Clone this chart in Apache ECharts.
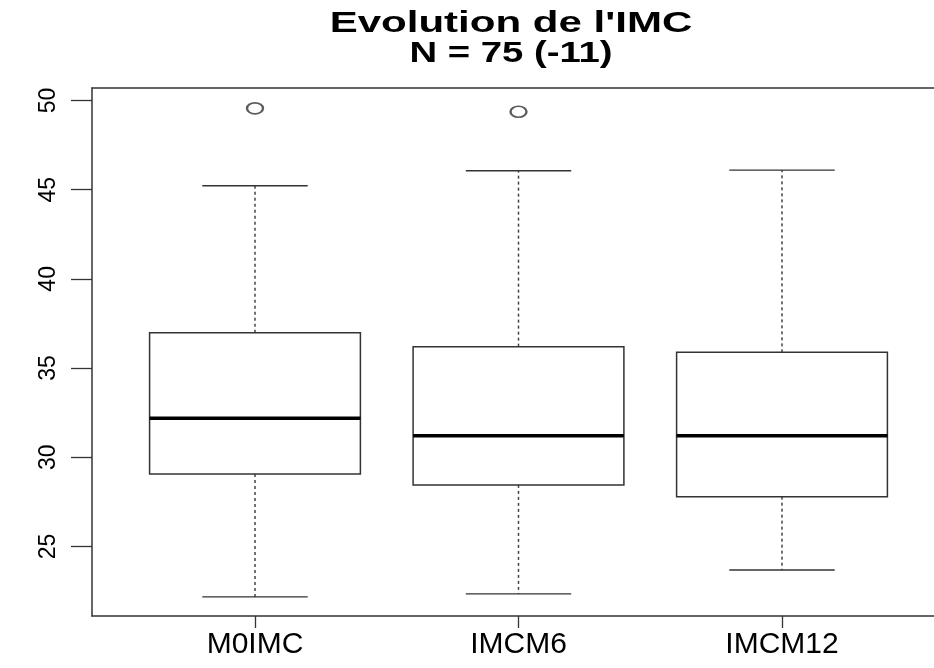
<!DOCTYPE html>
<html>
<head>
<meta charset="utf-8">
<script src="https://cdn.jsdelivr.net/npm/echarts@6/dist/echarts.min.js"></script>
<style>html,body{margin:0;padding:0;background:#fff;}#c{width:934px;height:668px;}</style>
</head>
<body>
<div id="c"></div>
<script>
var titleLine1 = "Evolution de l'IMC";
var titleLine2 = "N = 75 (-11)";
var categories = ["M0IMC", "IMCM6", "IMCM12"];
var lowWhisker = [22.17, 22.34, 23.68];
var q1 = [29.06, 28.45, 27.79];
var medians = [32.18, 31.21, 31.21];
var q3 = [36.98, 36.2, 35.88];
var highWhisker = [45.22, 46.06, 46.1];
var outlierCat = [0, 1];
var outlierVal = [49.56, 49.37];
var yTicks = [25, 30, 35, 40, 45, 50];
var yMin = 21.1, yMax = 50.7;

var boxData = categories.map(function (c, i) {
  return [i, lowWhisker[i], q1[i], medians[i], q3[i], highWhisker[i]];
});
var outData = outlierCat.map(function (c, i) { return [c, outlierVal[i]]; });

var chart = echarts.init(document.getElementById('c'), null, {renderer: 'canvas'});
var font = "'Liberation Sans', Arial, Helvetica, sans-serif";
var frameLine = {show: true, lineStyle: {color: '#333', width: 1.5}};
var option = {
  backgroundColor: '#fff',
  animation: false,
  graphic: [
    {type: 'text', x: 511, y: 24, scaleX: 1.45,
     style: {text: titleLine1, x: 0, y: 0, align: 'center', verticalAlign: 'middle',
             fontSize: 29, fontWeight: 'bold', fontFamily: font, fill: '#000'}},
    {type: 'text', x: 511, y: 54, scaleX: 1.32,
     style: {text: titleLine2, x: 0, y: 0, align: 'center', verticalAlign: 'middle',
             fontSize: 29, fontWeight: 'bold', fontFamily: font, fill: '#000'}}
  ],
  grid: [
    {left: 92, top: 88, right: 0, bottom: 52, show: false, containLabel: false},
    {left: 123.25, top: 88, right: 20.25, bottom: 52, containLabel: false}
  ],
  xAxis: [
    {gridIndex: 0, type: 'value', min: 0, max: 1, position: 'bottom',
     axisLine: frameLine, axisTick: {show: false}, axisLabel: {show: false}, splitLine: {show: false}},
    {gridIndex: 0, type: 'value', min: 0, max: 1, position: 'top',
     axisLine: frameLine, axisTick: {show: false}, axisLabel: {show: false}, splitLine: {show: false}},
    {gridIndex: 1, type: 'category', data: categories, boundaryGap: true,
     axisLine: {show: false},
     axisTick: {show: true, alignWithLabel: true, length: 12, lineStyle: {color: '#333', width: 1.3}},
     axisLabel: {fontSize: 30, color: '#000', fontFamily: font, margin: 14, interval: 0},
     splitLine: {show: false}}
  ],
  yAxis: [
    {gridIndex: 0, type: 'value', min: yMin, max: yMax,
     axisLine: frameLine,
     axisTick: {show: true, length: 21, customValues: yTicks, lineStyle: {color: '#333', width: 1.3}},
     axisLabel: {show: true, customValues: yTicks, rotate: 90, fontSize: 23, color: '#000', fontFamily: font, margin: 32},
     splitLine: {show: false}},
    {gridIndex: 1, type: 'value', min: yMin, max: yMax, show: false, splitLine: {show: false}}
  ],
  series: [
    {
      type: 'custom',
      xAxisIndex: 2, yAxisIndex: 1,
      data: boxData,
      encode: {x: 0, y: [1, 2, 3, 4, 5]},
      renderItem: function (params, api) {
        var idx = api.value(0);
        var pLow = api.coord([idx, api.value(1)]);
        var pQ1 = api.coord([idx, api.value(2)]);
        var pMed = api.coord([idx, api.value(3)]);
        var pQ3 = api.coord([idx, api.value(4)]);
        var pHigh = api.coord([idx, api.value(5)]);
        var band = api.size([1, 0])[0];
        var cx = pMed[0];
        var bh = band * 0.4;
        var ch = band * 0.2;
        var dash = {stroke: '#444', lineWidth: 1.5, lineDash: [3, 3]};
        return {
          type: 'group',
          children: [
            {type: 'line', shape: {x1: cx, y1: pQ3[1], x2: cx, y2: pHigh[1]}, style: dash},
            {type: 'line', shape: {x1: cx, y1: pQ1[1], x2: cx, y2: pLow[1]}, style: dash},
            {type: 'line', shape: {x1: cx - ch, y1: pHigh[1], x2: cx + ch, y2: pHigh[1]}, style: {stroke: '#333', lineWidth: 1.3}},
            {type: 'line', shape: {x1: cx - ch, y1: pLow[1], x2: cx + ch, y2: pLow[1]}, style: {stroke: '#333', lineWidth: 1.3}},
            {type: 'rect', shape: {x: cx - bh, y: pQ3[1], width: 2 * bh, height: pQ1[1] - pQ3[1]},
             style: {fill: '#fff', stroke: '#333', lineWidth: 1.5}},
            {type: 'line', shape: {x1: cx - bh, y1: pMed[1], x2: cx + bh, y2: pMed[1]}, style: {stroke: '#000', lineWidth: 3.5}}
          ]
        };
      }
    },
    {
      type: 'scatter',
      xAxisIndex: 2, yAxisIndex: 1,
      data: outData,
      symbol: 'emptyCircle',
      symbolSize: [16, 11],
      itemStyle: {color: '#333', borderColor: '#333', borderWidth: 1.4}
    }
  ]
};
chart.setOption(option);
</script>
</body>
</html>
